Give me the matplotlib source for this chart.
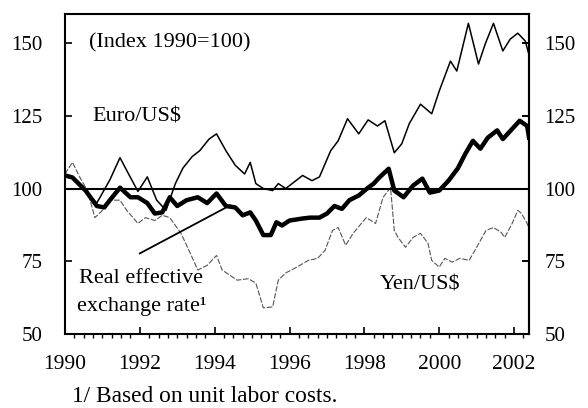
import numpy as np
import matplotlib.pyplot as plt
from matplotlib.ticker import MultipleLocator

# Euro/US$ index
euro_t = [1990.0, 1990.2, 1990.5, 1990.85, 1991.2, 1991.47, 1991.7, 1991.95, 1992.2, 1992.45,
          1992.7, 1992.95, 1993.15, 1993.4, 1993.6, 1993.85, 1994.05, 1994.3, 1994.55, 1994.8,
          1994.95, 1995.1, 1995.3, 1995.55, 1995.7, 1995.9, 1996.1, 1996.35, 1996.6, 1996.8,
          1997.1, 1997.3, 1997.55, 1997.85, 1998.1, 1998.35, 1998.55, 1998.8, 1999.0, 1999.2,
          1999.5, 1999.8, 2000.0, 2000.3, 2000.47, 2000.78, 2001.05, 2001.23, 2001.45, 2001.7,
          2001.9, 2002.1, 2002.3, 2002.4]
euro_v = [105, 103.5, 100, 95, 103, 110.6, 105, 99, 104, 96,
          92.5, 101.7, 107, 111, 113, 117, 118.8, 113, 108, 105,
          109, 101.7, 100, 99.3, 101.7, 100, 102, 104.5, 102.7, 104,
          113, 116.4, 124, 118.8, 123.6, 121.5, 123.3, 112.3, 115.4, 122.3,
          129, 125.7, 133.5, 143.8, 140.4, 156.8, 142.8, 149.7, 156.8, 147.3,
          151.4, 153.4, 150.7, 146]

# Real effective exchange rate (unit labor costs)
reer_t = [1990.0, 1990.2, 1990.55, 1990.85, 1991.05, 1991.2, 1991.47, 1991.75, 1991.95, 1992.2,
          1992.4, 1992.6, 1992.8, 1993.0, 1993.25, 1993.55, 1993.8, 1994.05, 1994.3, 1994.55,
          1994.75, 1994.95, 1995.1, 1995.3, 1995.5, 1995.65, 1995.8, 1996.0, 1996.35, 1996.55,
          1996.8, 1997.0, 1997.2, 1997.4, 1997.6, 1997.85, 1998.1, 1998.25, 1998.4, 1998.65,
          1998.8, 1999.05, 1999.3, 1999.55, 1999.75, 2000.0, 2000.25, 2000.5, 2000.7, 2000.9,
          2001.1, 2001.3, 2001.55, 2001.7, 2001.95, 2002.15, 2002.35, 2002.4]
reer_v = [104.5, 103.8, 99.3, 94, 93.5, 96, 100.3, 97, 97, 95,
          91.4, 91.8, 97, 94, 96, 97, 95, 98.3, 94, 93.5,
          90.8, 91.8, 89, 84, 84, 88.4, 87.3, 89, 89.7, 90,
          90, 91.4, 94, 93, 96, 97.6, 100.3, 101.7, 103.8, 106.8,
          99.3, 97, 101, 103.4, 98.6, 99.3, 102.7, 107, 112, 116.4,
          113.7, 117.5, 120, 117, 120.5, 123.3, 121.5, 117.5]

# Yen/US$ index
yen_t = [1990.0, 1990.2, 1990.4, 1990.6, 1990.8, 1991.0, 1991.2, 1991.47, 1991.65, 1991.95,
         1992.15, 1992.4, 1992.6, 1992.8, 1993.1, 1993.35, 1993.55, 1993.8, 1994.05, 1994.2,
         1994.6, 1994.9, 1995.1, 1995.3, 1995.55, 1995.7, 1995.9, 1996.2, 1996.5, 1996.75,
         1996.95, 1997.15, 1997.3, 1997.5, 1997.7, 1998.05, 1998.3, 1998.5, 1998.7, 1998.8,
         1998.9, 1999.1, 1999.3, 1999.5, 1999.7, 1999.8, 2000.0, 2000.15, 2000.35, 2000.55,
         2000.8, 2001.0, 2001.25, 2001.45, 2001.65, 2001.75, 2001.95, 2002.1, 2002.2, 2002.35, 2002.4]
yen_v = [105, 109, 103.8, 99.3, 90, 92.5, 96, 96, 92.5, 88,
         90, 89, 90.8, 90, 84.6, 77.7, 72, 73.6, 77, 72,
         68.5, 69, 67.5, 59, 59.3, 68.5, 71, 73, 75.3, 76,
         78.8, 85.6, 86.6, 80.5, 84.6, 90, 88, 97, 100.3, 85.6,
         83.2, 79.8, 83.2, 84.6, 81.2, 75.3, 73, 76, 74.7, 76,
         75.3, 79.8, 85.6, 86.6, 85, 83.2, 88, 92.5, 91.4, 88, 86]

yticks = [50, 75, 100, 125, 150]
xticks = [1990, 1992, 1994, 1996, 1998, 2000, 2002]

plt.rcParams['font.family'] = ['Liberation Serif', 'DejaVu Serif']

fig = plt.figure(figsize=(5.88, 4.08), dpi=100)
ax = fig.add_axes([0.1105, 0.1814, 0.7892, 0.7843])

ax.plot(yen_t, yen_v, color='#555555', lw=0.8, ls=(0, (5, 1.5)))
ax.plot(euro_t, euro_v, color='black', lw=1.1)
ax.plot(reer_t, reer_v, color='black', lw=3.2)
ax.axhline(100, color='black', lw=1.5)

# pointer line to the real effective exchange rate
ax.plot([1992.0, 1994.41], [77.7, 94.2], color='black', lw=1.3)

ax.set_xlim(1990, 2002.4)
ax.set_ylim(50, 160)
ax.set_xticks(xticks)
ax.xaxis.set_minor_locator(MultipleLocator(0.25))
ax.set_yticks(yticks)
for s in ax.spines.values():
    s.set_linewidth(1.5)
ax.tick_params(axis='both', direction='in', labelsize=15, width=1.2)
ax.tick_params(axis='x', which='major', length=5, pad=15, labelsize=15.5)
ax.tick_params(axis='x', which='minor', length=3, width=1.0)
ax.tick_params(axis='y', length=5, pad=16, right=True)

# right-hand scale, same values
sec = ax.secondary_yaxis('right')
sec.set_yticks(yticks)
sec.tick_params(direction='in', length=5, width=1.2, labelsize=15, pad=11)
sec.spines['right'].set_linewidth(1.5)

ax.text(1990.64, 150, '(Index 1990=100)', fontsize=16, va='center')
ax.text(1990.72, 124.5, 'Euro/US$', fontsize=16, va='center')
ax.text(1990.37, 69.2, 'Real effective', fontsize=16, va='center')
ax.text(1990.32, 59.4, 'exchange rate¹', fontsize=16, va='center')
ax.text(1998.4, 66.8, 'Yen/US$', fontsize=16, va='center')

fig.text(0.123, 0.028, '1/ Based on unit labor costs.', fontsize=16.8, va='center')

fig.savefig('out.png', dpi=100)
